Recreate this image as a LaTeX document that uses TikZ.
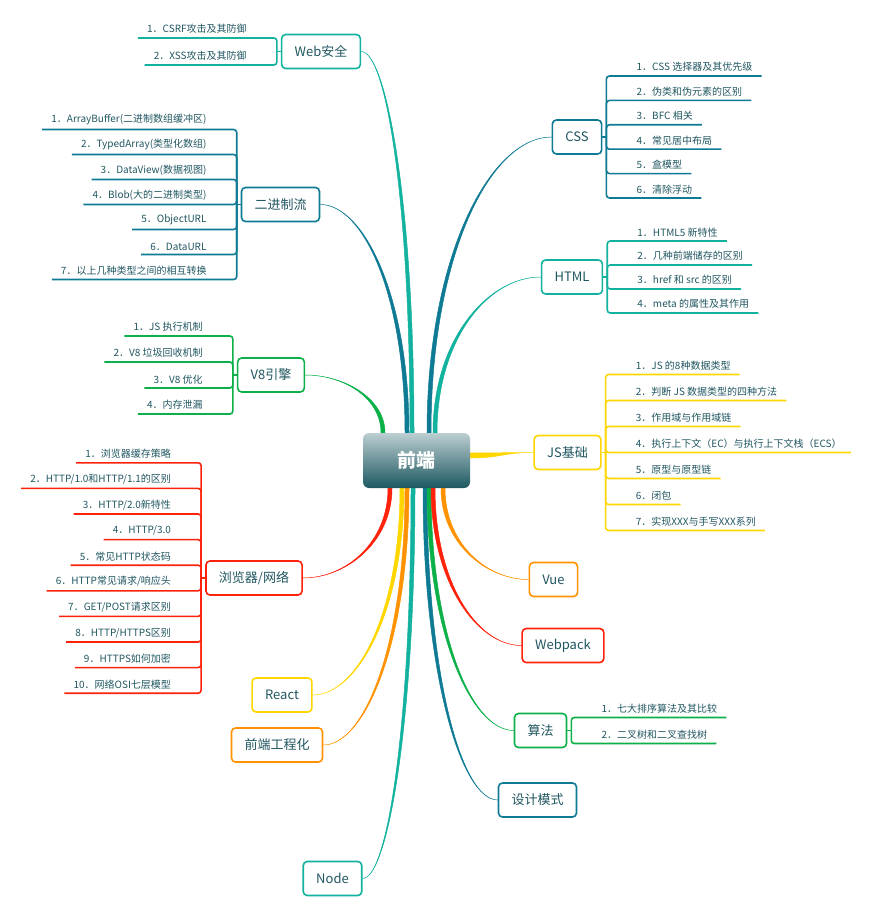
\documentclass[tikz,border=0pt]{standalone}
\usepackage{fontspec}
\setmainfont{Noto Sans CJK SC}
\usetikzlibrary{calc}
\pgfdeclarelayer{back}
\pgfsetlayers{back,main}

\definecolor{ink}{RGB}{32,86,96}
\definecolor{mmteal}{RGB}{18,178,158}
\definecolor{mmblue}{RGB}{14,122,148}
\definecolor{mmgreen}{RGB}{12,176,72}
\definecolor{mmyellow}{RGB}{255,214,0}
\definecolor{mmred}{RGB}{255,34,10}
\definecolor{mmorange}{RGB}{255,146,0}
\definecolor{rootTop}{RGB}{188,206,209}
\definecolor{rootBot}{RGB}{28,88,96}

\tikzset{
  root/.style={rounded corners=6pt, top color=rootTop, bottom color=rootBot,
    minimum width=107pt, minimum height=55pt, text=white,
    font=\fontsize{19}{22}\selectfont\bfseries},
  topic/.style={draw=#1, line width=1.6pt, rounded corners=4pt, fill=white,
    text=ink, font=\fontsize{13}{15}\selectfont, inner xsep=13pt,
    minimum height=34pt},
  leaf/.style={text=ink, font=\fontsize{10}{12}\selectfont,
    inner xsep=0pt, inner ysep=4pt},
  twigline/.style={line width=1.6pt, rounded corners=3pt},
}

% tapered limb: colour, topic anchor, root anchor, shift along the root
\newcommand\limb[4]{%
  \filldraw[#1, line width=.5pt] let \p1=(#2), \p2=([xshift=#4pt]#3) in
    (\p1) .. controls ({.5*\x1+.5*\x2},\y1) and ({\x2-2pt},{.6*\y1+.4*\y2}) .. ({\x2-2pt},\y2)
    -- ({\x2+2pt},\y2) .. controls ({\x2+2pt},{.6*\y1+.4*\y2}) and ({.5*\x1+.5*\x2},\y1) .. (\p1) -- cycle;
}

% leaves of a topic: topic, colour, side (1 right, -1 left), pitch, texts
\newcommand\twig[5]{%
  \ifnum#3>0 \def\outside{east}\def\inside{west}\else\def\outside{west}\def\inside{east}\fi
  \coordinate (#1-j) at ([xshift=#3*4pt]#1.\outside);
  \draw[#2, twigline] (#1.\outside) -- (#1-j);
  \foreach \lbl [count=\k] in {#5} {\xdef\nleaves{\k}}
  \foreach \lbl [count=\k] in {#5} {
    \node[leaf, anchor=south \inside] (#1-\k)
      at ([xshift=#3*30pt, yshift={(\nleaves/2+.5-\k)*#4}]#1-j) {\lbl};
    \draw[#2, twigline] (#1-j) |- ([xshift=#3*9pt]#1-\k.south \outside);
  }
}

\begin{document}
\begin{tikzpicture}[x=1pt, y=-1pt]
  \useasboundingbox (0,0) rectangle (875,912);
  \node[root] (root) at (416.5,460.5) {前端};

  \foreach \name/\col/\pos/\txt in {
      web/mmteal/{321,51.5}/Web安全,
      css/mmblue/{577,137}/CSS,
      bin/mmblue/{280.5,204.5}/二进制流,
      html/mmteal/{572,277}/HTML,
      v8/mmgreen/{271,375}/V8引擎,
      js/mmyellow/{567.5,452.5}/JS基础,
      net/mmred/{254,578}/{浏览器/网络},
      react/mmyellow/{282,695}/React,
      eng/mmorange/{277,745}/前端工程化,
      vue/mmorange/{553.5,579.5}/Vue,
      webpack/mmred/{563,645.5}/Webpack,
      algo/mmgreen/{540.5,730.5}/算法,
      design/mmblue/{537.5,800}/设计模式,
      nodejs/mmteal/{332.5,878.5}/Node%
    }
    \node[topic=\col] (\name) at (\pos) {\txt};

  \begin{pgfonlayer}{back}
    \foreach \name/\col/\side/\rside/\dx in {
        web/mmteal/east/north/-4.5,
        bin/mmblue/east/north/-9.5,
        css/mmblue/west/north/12.5,
        html/mmteal/west/north/18.5,
        v8/mmgreen/east/north/-33.5,
        net/mmred/east/south/-26.5,
        react/mmyellow/east/south/-14.5,
        eng/mmorange/east/south/-9.5,
        nodejs/mmteal/east/south/-3.5,
        design/mmblue/west/south/8.5,
        algo/mmgreen/west/south/12.5,
        webpack/mmred/west/south/16.5,
        vue/mmorange/west/south/26.5%
      }
      \limb{\col}{\name.\side}{root.\rside}{\dx};
    % the one limb leaving the root sideways
    \filldraw[mmyellow, line width=.5pt] let \p1=(js.west), \p2=([yshift=5pt]root.east) in
      (\p1) .. controls ({.5*\x1+.5*\x2},\y1) and ({.5*\x1+.5*\x2},{\y2+2.5pt}) .. (\x2,{\y2+2.5pt})
      -- (\x2,{\y2-2.5pt}) .. controls ({.5*\x1+.5*\x2},{\y2-2.5pt}) and ({.5*\x1+.5*\x2},\y1) .. (\p1) -- cycle;
  \end{pgfonlayer}

  \twig{web}{mmteal}{-1}{27}{1．CSRF攻击及其防御, 2．XSS攻击及其防御}
  \twig{css}{mmblue}{1}{24.4}{1．CSS 选择器及其优先级, 2．伪类和伪元素的区别,
    3．BFC 相关, 4．常见居中布局, 5．盒模型, 6．清除浮动}
  \twig{bin}{mmblue}{-1}{25}{1．ArrayBuffer(二进制数组缓冲区), 2．TypedArray(类型化数组),
    3．DataView(数据视图), 4．Blob(大的二进制类型), 5．ObjectURL, 6．DataURL,
    7．以上几种类型之间的相互转换}
  \twig{html}{mmteal}{1}{24}{1．HTML5 新特性, 2．几种前端储存的区别,
    3．href 和 src 的区别, 4．meta 的属性及其作用}
  \twig{v8}{mmgreen}{-1}{26}{1．JS 执行机制, 2．V8 垃圾回收机制, 3．V8 优化, 4．内存泄漏}
  \twig{js}{mmyellow}{1}{26}{1．JS 的8种数据类型, 2．判断 JS 数据类型的四种方法,
    3．作用域与作用域链, 4．执行上下文（EC）与执行上下文栈（ECS）, 5．原型与原型链,
    6．闭包, 7．实现XXX与手写XXX系列}
  \twig{net}{mmred}{-1}{25.6}{1．浏览器缓存策略, 2．HTTP/1.0和HTTP/1.1的区别,
    3．HTTP/2.0新特性, 4．HTTP/3.0, 5．常见HTTP状态码, 6．HTTP常见请求/响应头,
    7．GET/POST请求区别, 8．HTTP/HTTPS区别, 9．HTTPS如何加密, 10．网络OSI七层模型}
  \twig{algo}{mmgreen}{1}{26}{1．七大排序算法及其比较, 2．二叉树和二叉查找树}
\end{tikzpicture}
\end{document}
